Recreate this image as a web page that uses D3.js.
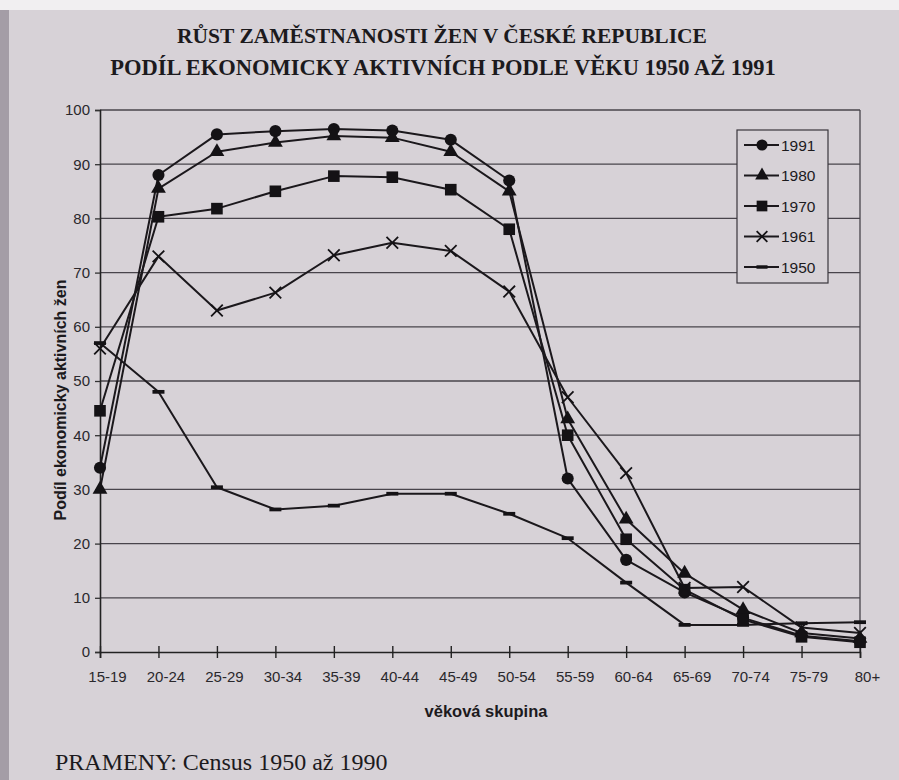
<!DOCTYPE html>
<html>
<head>
<meta charset="utf-8">
<script src="https://cdn.jsdelivr.net/npm/d3@7"></script>
<style>
  html, body { margin: 0; padding: 0; background: #d7d2d7; }
  #chart { width: 899px; height: 780px; }
  text { fill: #1c1a1d; }
</style>
</head>
<body>
<div id="chart"></div>
<script>

const categories = ["15-19", "20-24", "25-29", "30-34", "35-39", "40-44", "45-49",
                    "50-54", "55-59", "60-64", "65-69", "70-74", "75-79", "80+"];
const years = ["1991", "1980", "1970", "1961", "1950"];

const v1991 = [34, 88, 95.5, 96.1, 96.5, 96.2, 94.5, 87, 32, 17, 11, 6.3, 3, 2];
const v1980 = [30, 85.5, 92.3, 94, 95.2, 94.9, 92.3, 85, 43, 24.5, 14.5, 7.8, 3.5, 2.5];
const v1970 = [44.5, 80.3, 81.8, 85, 87.8, 87.6, 85.3, 78, 40, 20.8, 11.5, 6, 2.8, 1.8];
const v1961 = [56, 73, 63, 66.3, 73.2, 75.5, 74, 66.5, 47, 33, 11.8, 12, 4.5, 3.5];
const v1950 = [57, 48, 30.4, 26.3, 27, 29.2, 29.2, 25.5, 21, 12.8, 5, 5, 5.3, 5.5];

const yTicks = [0, 10, 20, 30, 40, 50, 60, 70, 80, 90, 100];

function drawChart() {

    const width = 899, height = 780;

    const svg = d3.select("#chart")
        .append("svg")
        .attr("width", width)
        .attr("height", height)
        .style("font-family", "'Liberation Sans', Arial, sans-serif");

    // paper edges from the photo
    svg.append("rect").attr("x", 0).attr("y", 0).attr("width", width).attr("height", 10)
        .attr("fill", "#f1eff1");
    svg.append("rect").attr("x", 0).attr("y", 10).attr("width", 9).attr("height", height - 10)
        .attr("fill", "#a49da6");

    const margin = { top: 110, right: 39, bottom: 128, left: 100 };
    const innerWidth = width - margin.left - margin.right;
    const innerHeight = height - margin.top - margin.bottom;

    const g = svg.append("g")
        .attr("transform", `translate(${margin.left},${margin.top})`);

    const x = d3.scalePoint()
        .domain(categories)
        .range([0, innerWidth]);

    const y = d3.scaleLinear()
        .domain([0, 100])
        .range([innerHeight, 0]);

    // grid lines
    g.append("g")
        .selectAll("line")
        .data(yTicks.filter(d => d > 0))
        .join("line")
        .attr("x1", 0)
        .attr("x2", innerWidth)
        .attr("y1", d => y(d))
        .attr("y2", d => y(d))
        .attr("stroke", "#48444b")
        .attr("stroke-width", 1.3);

    // right border
    g.append("line")
        .attr("x1", innerWidth).attr("x2", innerWidth)
        .attr("y1", 0).attr("y2", innerHeight)
        .attr("stroke", "#48444b")
        .attr("stroke-width", 1.3);

    // y axis
    const yAxis = g.append("g")
        .call(d3.axisLeft(y).tickValues(yTicks).tickSize(5).tickPadding(5));
    yAxis.select(".domain").attr("stroke", "#222").attr("stroke-width", 1.6);
    yAxis.selectAll(".tick line").attr("stroke", "#333").attr("stroke-width", 1.3);
    yAxis.selectAll("text")
        .style("font-size", "15px")
        .style("fill", "#2a282c");

    // x axis
    const xAxis = g.append("g")
        .attr("transform", `translate(0,${innerHeight})`)
        .call(d3.axisBottom(x).tickSize(6).tickPadding(13));
    xAxis.select(".domain").attr("stroke", "#222").attr("stroke-width", 1.6);
    xAxis.selectAll(".tick line").attr("y1", -6).attr("stroke", "#222").attr("stroke-width", 1.4);
    xAxis.selectAll("text")
        .attr("dx", 7)
        .style("font-size", "15px")
        .style("fill", "#2a282c");

    // series
    const seriesValues = [v1991, v1980, v1970, v1961, v1950];

    const dash = {
        draw(context, size) {
            const w = Math.sqrt(size) * 1.2, h = w / 3.2;
            context.rect(-w / 2, -h / 2, w, h);
        }
    };
    const symbols = [d3.symbolCircle, d3.symbolTriangle, d3.symbolSquare, d3.symbolTimes, dash];
    const sizes = [115, 95, 135, 90, 100];

    const line = d3.line()
        .x((d, i) => x(categories[i]))
        .y(d => y(d));

    seriesValues.forEach((vals, k) => {
        g.append("path")
            .datum(vals)
            .attr("fill", "none")
            .attr("stroke", "#1b181c")
            .attr("stroke-width", 2)
            .attr("stroke-linejoin", "round")
            .attr("d", line);
    });

    seriesValues.forEach((vals, k) => {
        const isStroke = symbols[k] === d3.symbolTimes;
        g.append("g")
            .selectAll("path")
            .data(vals)
            .join("path")
            .attr("transform", (d, i) => `translate(${x(categories[i])},${y(d)})`)
            .attr("d", d3.symbol(symbols[k], sizes[k]))
            .attr("fill", isStroke ? "none" : "#141215")
            .attr("stroke", isStroke ? "#141215" : "none")
            .attr("stroke-width", 1.8);
    });

    // legend
    const legend = svg.append("g").attr("transform", "translate(737,130)");
    legend.append("rect")
        .attr("width", 91)
        .attr("height", 153)
        .attr("fill", "#d7d2d7")
        .attr("stroke", "#3a363c")
        .attr("stroke-width", 1.2);

    years.forEach((yr, k) => {
        const row = legend.append("g").attr("transform", `translate(0,${15 + k * 30.5})`);
        row.append("line")
            .attr("x1", 7).attr("x2", 42)
            .attr("stroke", "#1b181c").attr("stroke-width", 2);
        const isStroke = symbols[k] === d3.symbolTimes;
        row.append("path")
            .attr("transform", "translate(25,0)")
            .attr("d", d3.symbol(symbols[k], sizes[k] * 0.85))
            .attr("fill", isStroke ? "none" : "#141215")
            .attr("stroke", isStroke ? "#141215" : "none")
            .attr("stroke-width", 1.8);
        row.append("text")
            .attr("x", 44)
            .attr("y", 5.5)
            .style("font-size", "15.5px")
            .text(yr);
    });

    // titles
    const serif = "'Liberation Serif', 'Times New Roman', serif";
    svg.append("text")
        .attr("x", 442).attr("y", 43)
        .attr("text-anchor", "middle")
        .style("font-family", serif)
        .style("font-weight", "bold")
        .style("font-size", "21.5px")
        .text("RŮST ZAMĚSTNANOSTI ŽEN V ČESKÉ REPUBLICE");

    svg.append("text")
        .attr("x", 443).attr("y", 75)
        .attr("text-anchor", "middle")
        .style("font-family", serif)
        .style("font-weight", "bold")
        .style("font-size", "22.5px")
        .text("PODÍL EKONOMICKY AKTIVNÍCH PODLE VĚKU 1950 AŽ 1991");

    // axis labels
    svg.append("text")
        .attr("text-anchor", "middle")
        .attr("transform", "translate(66,400) rotate(-90)")
        .style("font-size", "16px")
        .style("font-weight", "bold")
        .text("Podíl ekonomicky aktivních žen");

    svg.append("text")
        .attr("x", 486).attr("y", 717)
        .attr("text-anchor", "middle")
        .style("font-size", "16.5px")
        .style("font-weight", "bold")
        .text("věková skupina");

    svg.append("text")
        .attr("x", 55).attr("y", 770)
        .style("font-family", serif)
        .style("font-size", "24px")
        .text("PRAMENY: Census 1950 až 1990");
}

drawChart();
</script>
</body>
</html>
